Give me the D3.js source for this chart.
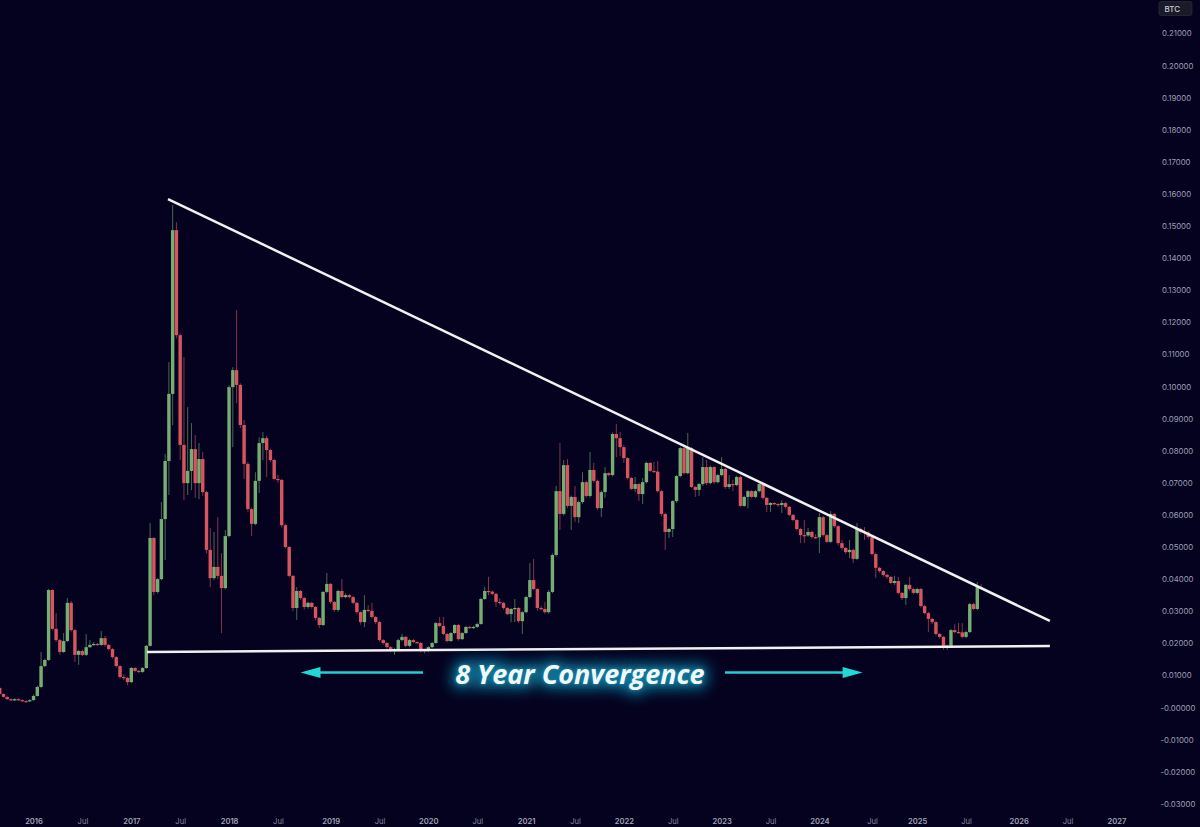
<!DOCTYPE html>
<html>
<head>
<meta charset="utf-8">
<script src="https://cdn.jsdelivr.net/npm/d3@7"></script>
<style>
  html, body { margin: 0; padding: 0; background: #04021f; overflow: hidden; }
  svg { display: block; }
</style>
</head>
<body>
<svg id="chart" width="1200" height="827"></svg>
<script>
// ETH/BTC two-week candles
const firstOpen = 0.0061
const closes = [
  0.0042,0.0033,0.0026,0.0023,0.0026,0.0023,0.0020,0.0019,0.0023,0.0036,0.0064,0.0129,0.0148,0.0366,
  0.0245,0.0210,0.0173,0.0207,0.0326,0.0241,0.0164,0.0176,0.0164,0.0188,0.0195,0.0198,0.0195,0.0216,
  0.0195,0.0182,0.0157,0.0129,0.0095,0.0092,0.0079,0.0123,0.0114,0.0111,0.0123,0.0192,0.0528,0.0360,
  0.0400,0.0587,0.0768,0.0977,0.1487,0.1160,0.0818,0.0699,0.0737,0.0805,0.0699,0.0774,0.0671,0.0491,
  0.0403,0.0438,0.0410,0.0372,0.0534,0.0998,0.1051,0.1005,0.0880,0.0759,0.0618,0.0572,0.0706,0.0824,
  0.0839,0.0802,0.0771,0.0712,0.0709,0.0568,0.0500,0.0410,0.0310,0.0363,0.0341,0.0313,0.0326,0.0313,
  0.0279,0.0257,0.0360,0.0385,0.0329,0.0304,0.0363,0.0344,0.0350,0.0344,0.0326,0.0297,0.0266,0.0304,
  0.0301,0.0282,0.0266,0.0210,0.0201,0.0188,0.0179,0.0182,0.0210,0.0220,0.0192,0.0210,0.0204,0.0201,
  0.0179,0.0176,0.0188,0.0201,0.0263,0.0254,0.0229,0.0207,0.0232,0.0257,0.0213,0.0232,0.0251,0.0248,
  0.0251,0.0260,0.0338,0.0363,0.0361,0.0354,0.0329,0.0326,0.0310,0.0291,0.0307,0.0310,0.0269,0.0297,
  0.0344,0.0397,0.0369,0.0310,0.0307,0.0297,0.0360,0.0475,0.0674,0.0603,0.0755,0.0628,0.0656,0.0593,
  0.0640,0.0702,0.0659,0.0740,0.0706,0.0621,0.0671,0.0730,0.0724,0.0852,0.0839,0.0811,0.0777,0.0715,
  0.0681,0.0696,0.0665,0.0702,0.0762,0.0737,0.0735,0.0674,0.0603,0.0547,0.0556,0.0643,0.0721,0.0808,
  0.0730,0.0808,0.0687,0.0678,0.0696,0.0749,0.0699,0.0749,0.0702,0.0724,0.0743,0.0687,0.0696,0.0693,
  0.0718,0.0628,0.0656,0.0674,0.0656,0.0674,0.0696,0.0653,0.0631,0.0637,0.0634,0.0631,0.0637,0.0625,
  0.0600,0.0584,0.0556,0.0537,0.0536,0.0547,0.0531,0.0530,0.0593,0.0537,0.0516,0.0603,0.0565,0.0512,
  0.0497,0.0484,0.0491,0.0463,0.0556,0.0547,0.0545,0.0531,0.0478,0.0435,0.0425,0.0413,0.0407,0.0388,
  0.0394,0.0357,0.0341,0.0382,0.0369,0.0357,0.0369,0.0316,0.0294,0.0276,0.0266,0.0229,0.0220,0.0188,
  0.0192,0.0241,0.0235,0.0234,0.0220,0.0235,0.0322,0.0307,0.0375,0.0372
]
const highs = [
  0.0066,0.0044,0.0035,0.0028,0.0029,0.0028,0.0025,0.0022,0.0026,0.0040,0.0068,0.0173,0.0152,0.0369,
  0.0368,0.0294,0.0214,0.0232,0.0341,0.0332,0.0245,0.0180,0.0180,0.0229,0.0210,0.0204,0.0201,0.0238,
  0.0223,0.0198,0.0185,0.0160,0.0132,0.0104,0.0095,0.0126,0.0126,0.0117,0.0126,0.0195,0.0575,0.0531,
  0.0403,0.0640,0.0790,0.1076,0.1565,0.1512,0.1165,0.1092,0.0936,0.0886,0.0849,0.0824,0.0796,0.0675,
  0.0559,0.0547,0.0593,0.0481,0.0553,0.1003,0.1060,0.1238,0.1010,0.0896,0.0765,0.0622,0.0733,0.0842,
  0.0858,0.0846,0.0806,0.0775,0.0724,0.0712,0.0572,0.0503,0.0413,0.0375,0.0366,0.0345,0.0330,0.0330,
  0.0316,0.0282,0.0363,0.0419,0.0388,0.0332,0.0367,0.0400,0.0356,0.0353,0.0347,0.0329,0.0300,0.0350,
  0.0319,0.0326,0.0285,0.0270,0.0213,0.0204,0.0191,0.0186,0.0214,0.0229,0.0223,0.0214,0.0213,0.0207,
  0.0204,0.0182,0.0191,0.0204,0.0266,0.0282,0.0282,0.0232,0.0235,0.0260,0.0260,0.0235,0.0254,0.0254,
  0.0254,0.0265,0.0342,0.0375,0.0407,0.0365,0.0357,0.0340,0.0329,0.0313,0.0310,0.0338,0.0313,0.0300,
  0.0348,0.0450,0.0463,0.0372,0.0316,0.0329,0.0366,0.0480,0.0690,0.0824,0.0771,0.0774,0.0660,0.0690,
  0.0645,0.0733,0.0706,0.0796,0.0762,0.0710,0.0676,0.0749,0.0733,0.0857,0.0883,0.0858,0.0818,0.0780,
  0.0718,0.0718,0.0700,0.0715,0.0766,0.0765,0.0765,0.0768,0.0677,0.0606,0.0560,0.0646,0.0724,0.0812,
  0.0812,0.0855,0.0812,0.0690,0.0700,0.0780,0.0771,0.0754,0.0752,0.0728,0.0780,0.0746,0.0724,0.0709,
  0.0722,0.0722,0.0660,0.0678,0.0678,0.0678,0.0702,0.0700,0.0656,0.0640,0.0640,0.0637,0.0646,0.0640,
  0.0628,0.0603,0.0587,0.0560,0.0584,0.0559,0.0551,0.0540,0.0606,0.0597,0.0541,0.0612,0.0606,0.0569,
  0.0522,0.0500,0.0522,0.0495,0.0575,0.0560,0.0562,0.0550,0.0534,0.0482,0.0438,0.0428,0.0416,0.0410,
  0.0410,0.0407,0.0360,0.0385,0.0407,0.0373,0.0373,0.0372,0.0320,0.0298,0.0280,0.0270,0.0232,0.0223,
  0.0196,0.0245,0.0260,0.0263,0.0263,0.0239,0.0326,0.0326,0.0391,0.0385
]
const lows = [
  0.0039,0.0031,0.0024,0.0021,0.0020,0.0021,0.0018,0.0017,0.0017,0.0021,0.0034,0.0060,0.0125,0.0145,
  0.0240,0.0204,0.0164,0.0170,0.0204,0.0236,0.0142,0.0133,0.0160,0.0160,0.0185,0.0192,0.0192,0.0192,
  0.0190,0.0178,0.0153,0.0125,0.0090,0.0085,0.0070,0.0076,0.0110,0.0108,0.0108,0.0120,0.0190,0.0350,
  0.0355,0.0396,0.0459,0.0662,0.0880,0.1150,0.0771,0.0646,0.0662,0.0677,0.0653,0.0649,0.0660,0.0480,
  0.0375,0.0397,0.0400,0.0232,0.0368,0.0530,0.0811,0.0948,0.0870,0.0712,0.0610,0.0534,0.0568,0.0668,
  0.0771,0.0718,0.0765,0.0708,0.0700,0.0560,0.0495,0.0405,0.0300,0.0273,0.0336,0.0305,0.0308,0.0308,
  0.0272,0.0248,0.0254,0.0356,0.0323,0.0298,0.0298,0.0340,0.0340,0.0340,0.0322,0.0292,0.0258,0.0251,
  0.0298,0.0278,0.0260,0.0205,0.0196,0.0183,0.0174,0.0164,0.0178,0.0206,0.0188,0.0188,0.0200,0.0197,
  0.0172,0.0168,0.0172,0.0185,0.0198,0.0250,0.0225,0.0203,0.0204,0.0228,0.0208,0.0210,0.0229,0.0245,
  0.0245,0.0248,0.0258,0.0335,0.0350,0.0350,0.0313,0.0320,0.0305,0.0288,0.0266,0.0266,0.0264,0.0229,
  0.0293,0.0340,0.0365,0.0301,0.0302,0.0292,0.0292,0.0356,0.0470,0.0553,0.0598,0.0621,0.0553,0.0578,
  0.0575,0.0635,0.0654,0.0654,0.0700,0.0616,0.0593,0.0653,0.0720,0.0720,0.0780,0.0783,0.0762,0.0710,
  0.0678,0.0671,0.0643,0.0634,0.0698,0.0733,0.0731,0.0670,0.0596,0.0491,0.0528,0.0531,0.0638,0.0717,
  0.0726,0.0726,0.0684,0.0656,0.0659,0.0690,0.0693,0.0695,0.0696,0.0698,0.0720,0.0681,0.0681,0.0674,
  0.0689,0.0625,0.0625,0.0621,0.0652,0.0652,0.0670,0.0648,0.0609,0.0609,0.0630,0.0626,0.0606,0.0620,
  0.0596,0.0580,0.0551,0.0512,0.0512,0.0532,0.0526,0.0525,0.0481,0.0532,0.0512,0.0512,0.0560,0.0505,
  0.0490,0.0478,0.0466,0.0450,0.0459,0.0540,0.0522,0.0526,0.0474,0.0404,0.0420,0.0408,0.0400,0.0384,
  0.0382,0.0352,0.0335,0.0319,0.0364,0.0352,0.0353,0.0312,0.0290,0.0235,0.0260,0.0224,0.0215,0.0180,
  0.0180,0.0188,0.0231,0.0230,0.0216,0.0216,0.0232,0.0303,0.0303,0.0368
]

const priceTicks = [0.21,0.20,0.19,0.18,0.17,0.16,0.15,0.14,0.13,0.12,0.11,0.10,0.09,0.08,0.07,0.06,0.05,0.04,0.03,0.02,0.01,0,-0.01,-0.02,-0.03]
const timeTickCandles = [9,22,35,48,61,74,88,101,114,127,140,153,166,179,192,205,218,232,244,257,271,284,297]
const timeTickLabels = ["2016","Jul","2017","Jul","2018","Jul","2019","Jul","2020","Jul","2021","Jul","2022","Jul","2023","Jul","2024","Jul","2025","Jul","2026","Jul","2027"]

// drawn lines: candle index and price of each end
const trendCandles = [44.76, 279.3]
const trendPrices = [0.1584, 0.02695]
const supportCandles = [39.2, 279.3]
const supportPrices = [0.01729, 0.01916]
const arrowPrice = 0.0109
const leftArrowCandles = [112.6, 80]
const rightArrowCandles = [192.9, 229.5]
const titleText = "8 Year Convergence"

const width = 1200, height = 827
const green = "#76ad73", red = "#d6555f"

const x = d3.scaleLinear().domain([0, 261]).range([-0.3, 981.06])
const y = d3.scaleLinear().domain([0, 0.21]).range([707.5, 33.4])

const candles = closes.map((c, i) => ({
    i: i,
    open: i == 0 ? firstOpen : closes[i - 1],
    close: c,
    high: highs[i],
    low: lows[i]
}))

const svg = d3.select("#chart")
const defs = svg.append("defs")
defs.append("filter").attr("id", "soft").append("feGaussianBlur").attr("stdDeviation", 0.35)
defs.append("filter").attr("id", "glow")
    .attr("x", "-20%").attr("y", "-100%").attr("width", "140%").attr("height", "300%")
    .append("feGaussianBlur").attr("stdDeviation", 7)
defs.append("filter").attr("id", "glowTight")
    .attr("x", "-20%").attr("y", "-100%").attr("width", "140%").attr("height", "300%")
    .append("feGaussianBlur").attr("stdDeviation", 1.6)

svg.append("rect").attr("width", width).attr("height", height).attr("fill", "#04021f")

// candles
const candleGroup = svg.append("g").attr("filter", "url(#soft)")
candleGroup.selectAll("line.wick")
    .data(candles)
    .join("line")
    .attr("class", "wick")
    .attr("x1", d => x(d.i)).attr("x2", d => x(d.i))
    .attr("y1", d => y(d.high)).attr("y2", d => y(d.low))
    .attr("stroke", d => d.close >= d.open ? green : red)
    .attr("stroke-width", 1)
    .attr("stroke-opacity", 0.6)

candleGroup.selectAll("rect.body")
    .data(candles)
    .join("rect")
    .attr("class", "body")
    .attr("x", d => x(d.i) - 1.7)
    .attr("width", 3.4)
    .attr("y", d => y(Math.max(d.open, d.close)))
    .attr("height", d => Math.max(1.2, Math.abs(y(d.open) - y(d.close))))
    .attr("fill", d => d.close >= d.open ? green : red)

// white trend lines
const trendLine = d3.line().x(d => x(d[0])).y(d => y(d[1]))
svg.append("path")
    .datum(d3.zip(trendCandles, trendPrices))
    .attr("d", trendLine)
    .attr("fill", "none").attr("stroke", "#f1f1f1").attr("stroke-width", 2.5)
svg.append("path")
    .datum(d3.zip(supportCandles, supportPrices))
    .attr("d", trendLine)
    .attr("fill", "none").attr("stroke", "#f1f1f1").attr("stroke-width", 2.5)

// cyan arrows
function drawArrow(ends) {
    const tail = x(ends[0]), tip = x(ends[1]), py = y(arrowPrice)
    const dir = tip > tail ? 1 : -1
    svg.append("line")
        .attr("x1", tail).attr("x2", tip - dir * 15)
        .attr("y1", py).attr("y2", py)
        .attr("stroke", "#22cfd2").attr("stroke-width", 2.4)
    svg.append("path")
        .attr("d", `M${tip},${py}L${tip - dir * 20},${py - 5.5}L${tip - dir * 20},${py + 5.5}Z`)
        .attr("fill", "#22d8d6")
}
drawArrow(leftArrowCandles)
drawArrow(rightArrowCandles)

// title with glow
const titleX = x(154.3), titleY = y(0.0074)
function titleLayer() {
    return svg.append("text")
        .attr("x", titleX).attr("y", titleY)
        .attr("text-anchor", "middle")
        .attr("font-family", "'Open Sans'")
        .attr("font-weight", 700).attr("font-style", "italic")
        .attr("font-size", 27)
        .text(titleText)
}
titleLayer().attr("fill", "#0c7396").attr("stroke", "#0c7396").attr("stroke-width", 10).attr("filter", "url(#glow)")
titleLayer().attr("fill", "#1a8fb5").attr("stroke", "#1a8fb5").attr("stroke-width", 1).attr("stroke-opacity", 0.7).attr("fill-opacity", 0.7).attr("filter", "url(#glowTight)")
titleLayer().attr("fill", "#f0fafa")

// price axis
const yAxis = d3.axisRight(y)
    .tickValues(priceTicks)
    .tickSize(0)
    .tickPadding(0)
    .tickFormat(d => (d == 0 ? "-0.00000" : d3.format(".5f")(d).replace("−", "-")))
svg.append("g")
    .attr("transform", "translate(1162,0)")
    .call(yAxis)
    .call(g => g.select(".domain").remove())
    .call(g => g.selectAll("text")
        .attr("fill", "#9f9fb2")
        .attr("font-family", "Inter")
        .attr("font-size", 7.8))
svg.selectAll("g.tick").filter(d => d == 0 || d < 0).select("text").attr("dx", -1.5)

// time axis
const xAxis = d3.axisBottom(x)
    .tickValues(timeTickCandles)
    .tickSize(0)
    .tickPadding(0)
    .tickFormat((d, i) => timeTickLabels[i])
svg.append("g")
    .attr("transform", "translate(0,819)")
    .call(xAxis)
    .call(g => g.select(".domain").remove())
    .call(g => g.selectAll("text")
        .attr("fill", (d, i) => timeTickLabels[i] == "Jul" ? "#85859a" : "#a3a3b5")
        .attr("font-family", "Inter")
        .attr("font-weight", (d, i) => timeTickLabels[i] == "Jul" ? 400 : 600)
        .attr("font-size", 7.6))

// symbol badge
const badge = svg.append("g").attr("transform", "translate(1159,1.5)")
badge.append("rect")
    .attr("width", 33).attr("height", 14).attr("rx", 2)
    .attr("fill", "#1a1a28").attr("stroke", "#33323f").attr("stroke-width", 0.6)
badge.append("text")
    .attr("x", 5.5).attr("y", 10)
    .attr("fill", "#c8c8d4").attr("font-family", "Inter").attr("font-weight", 500).attr("font-size", 8)
    .text("BTC")
</script>
</body>
</html>
